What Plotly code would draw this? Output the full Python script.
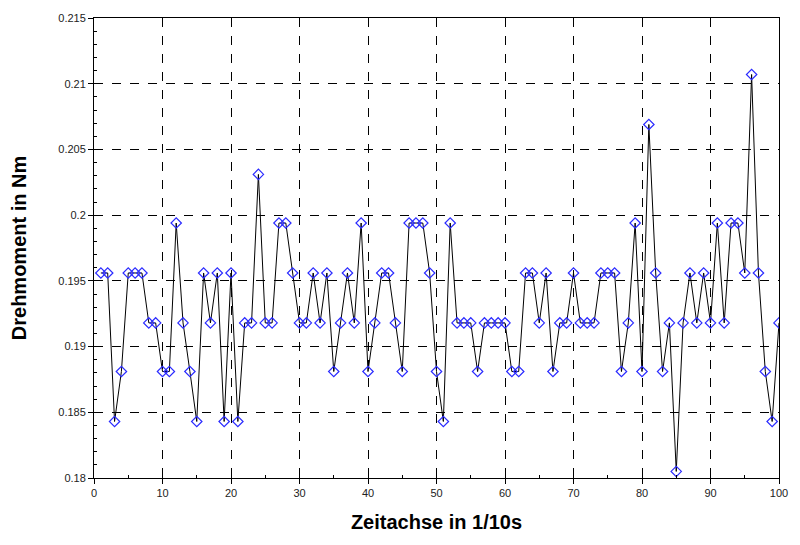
import plotly.graph_objects as go

# Sample index (1/10 s steps) and measured torque in Nm
zeit = list(range(1, 101))
drehmoment = [
    0.1956, 0.1956, 0.1843, 0.1881, 0.1956, 0.1956, 0.1956, 0.1918, 0.1918, 0.1881,
    0.1881, 0.1994, 0.1918, 0.1881, 0.1843, 0.1956, 0.1918, 0.1956, 0.1843, 0.1956,
    0.1843, 0.1918, 0.1918, 0.2031, 0.1918, 0.1918, 0.1994, 0.1994, 0.1956, 0.1918,
    0.1918, 0.1956, 0.1918, 0.1956, 0.1881, 0.1918, 0.1956, 0.1918, 0.1994, 0.1881,
    0.1918, 0.1956, 0.1956, 0.1918, 0.1881, 0.1994, 0.1994, 0.1994, 0.1956, 0.1881,
    0.1843, 0.1994, 0.1918, 0.1918, 0.1918, 0.1881, 0.1918, 0.1918, 0.1918, 0.1918,
    0.1881, 0.1881, 0.1956, 0.1956, 0.1918, 0.1956, 0.1881, 0.1918, 0.1918, 0.1956,
    0.1918, 0.1918, 0.1918, 0.1956, 0.1956, 0.1956, 0.1881, 0.1918, 0.1994, 0.1881,
    0.2069, 0.1956, 0.1881, 0.1918, 0.1805, 0.1918, 0.1956, 0.1918, 0.1956, 0.1918,
    0.1994, 0.1918, 0.1994, 0.1994, 0.1956, 0.2107, 0.1956, 0.1881, 0.1843, 0.1918,
]

x_range = [0, 100]
y_range = [0.18, 0.215]

fig = go.Figure()
fig.add_trace(go.Scatter(
    x=zeit, y=drehmoment, mode="lines+markers",
    line=dict(color="black", width=1),
    marker=dict(symbol="diamond-open", size=8, color="#2b2bff", line=dict(width=1.2)),
    showlegend=False,
))
# invisible trace so the inner-tick overlay axes are rendered
fig.add_trace(go.Scatter(x=[None], y=[None], xaxis="x2", yaxis="y2",
                         showlegend=False, hoverinfo="skip"))

font_ticks = dict(family="Liberation Sans, Arial, sans-serif", size=11, color="#222")
font_title = dict(family="Liberation Sans, Arial, sans-serif", size=20, color="black")

common = dict(showline=True, linecolor="black", linewidth=1, mirror=True,
              zeroline=False)

fig.update_layout(
    width=800, height=545,
    margin=dict(l=94, r=14, t=17, b=67),
    paper_bgcolor="white", plot_bgcolor="white",
    xaxis=dict(
        range=x_range, dtick=10, tick0=0,
        ticks="outside", ticklen=5, tickcolor="black",
        showgrid=True, gridcolor="black", griddash="dash", gridwidth=1,
        tickfont=font_ticks,
        title=dict(text="<b>Zeitachse in 1/10s</b>", font=font_title, standoff=16),
        **common,
    ),
    yaxis=dict(
        range=y_range, dtick=0.005, tick0=0.18,
        ticks="outside", ticklen=5, tickcolor="black",
        showgrid=True, gridcolor="black", griddash="dash", gridwidth=1,
        tickfont=font_ticks,
        title=dict(text="<b>Drehmoment in Nm</b>", font=font_title, standoff=26),
        **common,
    ),
    xaxis2=dict(
        range=x_range, overlaying="x", anchor="y", side="bottom",
        dtick=10, tick0=0, ticks="inside", ticklen=5, tickcolor="black",
        showticklabels=False, showgrid=False, zeroline=False,
        minor=dict(dtick=5, tick0=0, ticks="inside", ticklen=3, tickcolor="black"),
    ),
    yaxis2=dict(
        range=y_range, overlaying="y", anchor="x", side="left",
        dtick=0.005, tick0=0.18, ticks="inside", ticklen=5, tickcolor="black",
        showticklabels=False, showgrid=False, zeroline=False,
        minor=dict(dtick=0.001, tick0=0.18, ticks="inside", ticklen=3, tickcolor="black"),
    ),
)

fig.write_html("out.html")
